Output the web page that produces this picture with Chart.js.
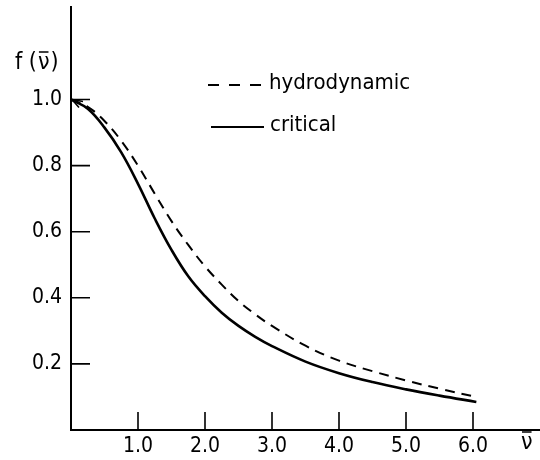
<!DOCTYPE html>
<html>
<head>
<meta charset="utf-8">
<script src="https://cdn.jsdelivr.net/npm/chart.js@4"></script>
<style>
  body { margin: 0; background: #fff; }
  #wrap { width: 540px; height: 460px; }
</style>
</head>
<body>
<div id="wrap"><canvas id="grafic" width="540" height="460"></canvas></div>
<script>
// valori
const nuBar = [0, 0.25, 0.5, 0.75, 1.0, 1.25, 1.5, 1.75, 2.0, 2.25, 2.5, 2.75, 3.0, 3.5, 4.0, 4.5, 5.0, 5.5, 6.05];
const hidrodinamic = [1.00, 0.978, 0.935, 0.875, 0.80, 0.715, 0.632, 0.56, 0.495, 0.44, 0.39, 0.35, 0.315, 0.255, 0.21, 0.178, 0.15, 0.125, 0.10];
const critic = [1.00, 0.972, 0.915, 0.84, 0.745, 0.64, 0.545, 0.465, 0.405, 0.355, 0.315, 0.282, 0.254, 0.207, 0.172, 0.145, 0.123, 0.104, 0.085];
const xTicks = [1, 2, 3, 4, 5, 6];
const yTicks = [0.2, 0.4, 0.6, 0.8, 1.0];

const font = '"DejaVu Sans Condensed", "DejaVu Sans", sans-serif';

const puncte = (ys) => nuBar.map((x, i) => ({ x: x, y: ys[i] }));

// nu cu bara deasupra (macronul desenat ca linie)
function nuCuBara(ctx, x, y) {
    ctx.fillText('\u03BD', x, y);
    const w = ctx.measureText('\u03BD').width;
    ctx.beginPath();
    ctx.moveTo(x + 1, y - 11);
    ctx.lineTo(x + w - 1, y - 11);
    ctx.stroke();
    return w;
}

// tick-uri spre interior, etichete si legenda
const decor = {
    id: 'decor',
    afterDraw(chart) {
        const ctx = chart.ctx;
        const xs = chart.scales.x, ys = chart.scales.y;
        ctx.save();
        ctx.strokeStyle = '#000';
        ctx.fillStyle = '#000';
        ctx.lineWidth = 1.6;
        ctx.beginPath();
        xTicks.forEach(v => {
            const px = xs.getPixelForValue(v);
            ctx.moveTo(px, ys.bottom);
            ctx.lineTo(px, ys.bottom - 18);
        });
        yTicks.forEach(v => {
            const py = ys.getPixelForValue(v);
            ctx.moveTo(xs.left, py);
            ctx.lineTo(xs.left + 19, py);
        });
        ctx.stroke();

        // sageata mica la inceputul curbei
        const ax = xs.getPixelForValue(0) + 1, ay = ys.getPixelForValue(1.0);
        ctx.beginPath();
        ctx.moveTo(ax + 11, ay + 2);
        ctx.lineTo(ax, ay);
        ctx.lineTo(ax + 7, ay + 8);
        ctx.stroke();

        ctx.font = '23px ' + font;
        ctx.textBaseline = 'middle';
        ctx.textAlign = 'left';
        ctx.lineWidth = 1.5;
        let x0 = 15;
        ctx.fillText('f (', x0, 63);
        x0 += ctx.measureText('f (').width + 1;
        x0 += nuCuBara(ctx, x0, 63) + 1;
        ctx.fillText(')', x0, 63);
        nuCuBara(ctx, 521, 443);

        // legenda
        ctx.lineWidth = 2;
        ctx.setLineDash([11, 10]);
        ctx.beginPath();
        ctx.moveTo(208, 85);
        ctx.lineTo(261, 85);
        ctx.stroke();
        ctx.setLineDash([]);
        ctx.lineWidth = 2.2;
        ctx.beginPath();
        ctx.moveTo(211, 127);
        ctx.lineTo(264, 127);
        ctx.stroke();
        ctx.font = '22px ' + font;
        ctx.fillText('hydrodynamic', 269, 83);
        ctx.fillText('critical', 270, 125);
        ctx.restore();
    }
};

new Chart(document.getElementById('grafic').getContext('2d'), {
    type: 'line',
    data: {
        datasets: [{
            label: 'hydrodynamic',
            data: puncte(hidrodinamic),
            borderColor: '#000',
            borderWidth: 2,
            borderDash: [10, 7],
            pointRadius: 0,
            tension: 0.4,
            fill: false
        }, {
            label: 'critical',
            data: puncte(critic),
            borderColor: '#000',
            borderWidth: 2.6,
            pointRadius: 0,
            tension: 0.4,
            fill: false
        }]
    },
    options: {
        responsive: false,
        animation: false,
        layout: { padding: { top: 7, right: 0, left: 0, bottom: 0 } },
        plugins: {
            legend: { display: false },
            tooltip: { enabled: false }
        },
        scales: {
            x: {
                type: 'linear',
                min: 0,
                max: 7,
                afterBuildTicks: (s) => { s.ticks = xTicks.map(v => ({ value: v })); },
                afterFit: (s) => { s.height = 30; s.paddingLeft = 0; s.paddingRight = 0; },
                grid: { display: true, drawOnChartArea: false, drawTicks: false },
                border: { display: true, color: '#000', width: 2 },
                ticks: {
                    padding: 4,
                    color: '#000',
                    maxRotation: 0,
                    autoSkip: false,
                    font: { family: font, size: 21 },
                    callback: (v) => v.toFixed(1)
                }
            },
            y: {
                min: 0,
                max: 1.28,
                afterBuildTicks: (s) => { s.ticks = yTicks.map(v => ({ value: v })); },
                afterFit: (s) => { s.width = 71; s.paddingTop = 0; s.paddingBottom = 0; },
                grid: { display: true, drawOnChartArea: false, drawTicks: false },
                border: { display: true, color: '#000', width: 2 },
                ticks: {
                    padding: 9,
                    color: '#000',
                    autoSkip: false,
                    font: { family: font, size: 21 },
                    callback: (v) => v.toFixed(1)
                }
            }
        }
    },
    plugins: [decor]
});
</script>
</body>
</html>
